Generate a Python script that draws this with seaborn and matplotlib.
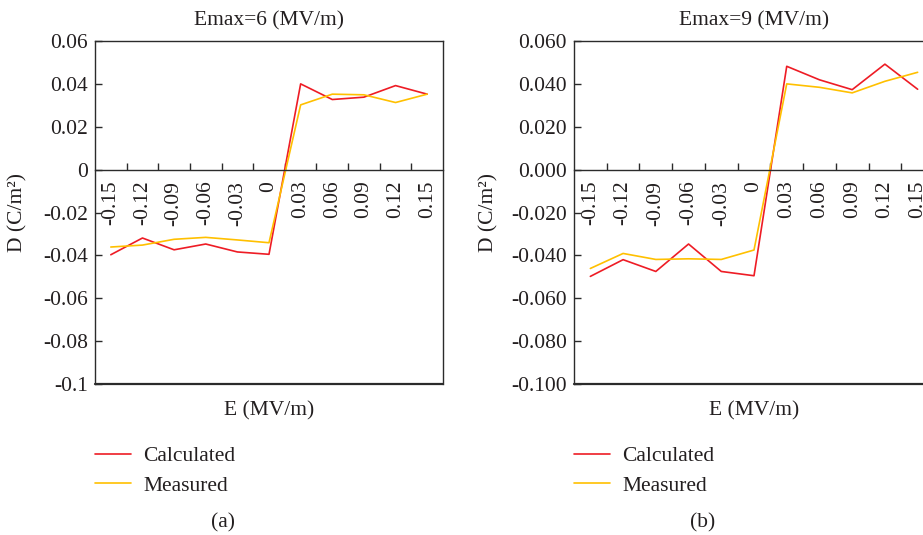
import numpy as np
import pandas as pd
import matplotlib
matplotlib.use("Agg")
import matplotlib.pyplot as plt
import seaborn as sns
from matplotlib.ticker import FixedLocator, FixedFormatter

# ---------------- data ----------------
e_labels = ["-0.15", "-0.12", "-0.09", "-0.06", "-0.03", "0",
            "0.03", "0.06", "0.09", "0.12", "0.15"]

calc_a = [-0.0397, -0.0319, -0.0374, -0.0347, -0.0384, -0.0395,
          0.0400, 0.0327, 0.0338, 0.0392, 0.0352]
meas_a = [-0.0361, -0.0352, -0.0325, -0.0316, -0.0328, -0.0341,
          0.0302, 0.0352, 0.0349, 0.0313, 0.0352]

calc_b = [-0.0498, -0.0420, -0.0475, -0.0347, -0.0475, -0.0495,
          0.0482, 0.0419, 0.0373, 0.0492, 0.0375]
meas_b = [-0.0461, -0.0391, -0.0419, -0.0416, -0.0419, -0.0375,
          0.0400, 0.0384, 0.0358, 0.0412, 0.0454]

yticks = [-0.1, -0.08, -0.06, -0.04, -0.02, 0.0, 0.02, 0.04, 0.06]
ytick_labels_a = ["-0.1", "-0.08", "-0.06", "-0.04", "-0.02", "0", "0.02", "0.04", "0.06"]
ytick_labels_b = ["-0.100", "-0.080", "-0.060", "-0.040", "-0.020", "0.000", "0.020", "0.040", "0.060"]

titles = ["Emax=6 (MV/m)", "Emax=9 (MV/m)"]
series_names = ["Calculated", "Measured"]
colors = {"Calculated": "#ee1c25", "Measured": "#ffc000"}

# ---------------- style ----------------
sns.set_style("white")
plt.rcParams["font.family"] = ["Liberation Serif", "DejaVu Serif"]
plt.rcParams["axes.unicode_minus"] = False
FS = 15.5
TXT = "#231f20"

fig = plt.figure(figsize=(9.23, 5.35), dpi=100)
W, H = 923, 535

def px_axes(l, r, t, b):
    return fig.add_axes([l / W, 1 - b / H, (r - l) / W, (b - t) / H])

panels = [
    dict(box=(95, 443, 41, 384), calc=calc_a, meas=meas_a, ylab=ytick_labels_a,
         title=titles[0], tag="(a)", tagx=223, legx=95, ylx=-0.193),
    dict(box=(574, 934, 41, 384), calc=calc_b, meas=meas_b, ylab=ytick_labels_b,
         title=titles[1], tag="(b)", tagx=703, legx=574, ylx=-0.211),
]

for p in panels:
    ax = px_axes(*p["box"])
    x = np.arange(len(e_labels))
    df = pd.DataFrame({
        "x": np.concatenate([x, x]),
        "D": np.concatenate([p["calc"], p["meas"]]),
        "series": [series_names[0]] * len(x) + [series_names[1]] * len(x),
    })
    sns.lineplot(data=df, x="x", y="D", hue="series", palette=colors,
                 linewidth=1.2, ax=ax, legend=False, sort=False)
    ax.set_xlim(-0.5, len(e_labels) - 0.5)
    ax.set_ylim(-0.1, 0.06)

    # frame
    for s in ["top", "right", "left", "bottom"]:
        ax.spines[s].set_visible(True)
        ax.spines[s].set_color("#2b2b2b")
        ax.spines[s].set_linewidth(1.0)
    ax.spines["bottom"].set_position(("data", 0))
    ax.axhline(-0.1, color="#2b2b2b", lw=1.6, clip_on=False, zorder=5)

    # y axis
    ax.yaxis.set_major_locator(FixedLocator(yticks))
    ax.yaxis.set_major_formatter(FixedFormatter(p["ylab"]))
    ax.tick_params(axis="y", which="major", direction="in", length=5, width=1.0,
                   color="#2b2b2b", labelsize=FS, labelcolor=TXT, pad=5,
                   left=True, right=False)

    # x axis: ticks between categories, labels at category centres
    ax.xaxis.set_major_locator(FixedLocator(np.arange(0.5, len(e_labels) - 1, 1.0)))
    ax.xaxis.set_major_formatter(FixedFormatter([""] * (len(e_labels) - 1)))
    ax.xaxis.set_minor_locator(FixedLocator(x))
    ax.xaxis.set_minor_formatter(FixedFormatter(e_labels))
    ax.tick_params(axis="x", which="major", direction="in", length=5, width=1.0,
                   color="#2b2b2b", bottom=True, top=False)
    ax.tick_params(axis="x", which="minor", length=0, labelsize=FS, labelcolor=TXT,
                   labelrotation=90, pad=8)

    ax.set_xlabel("E (MV/m)", fontsize=FS, color=TXT)
    ax.xaxis.set_label_coords(0.5, -0.05)
    ax.set_ylabel("D (C/m²)", fontsize=FS, color=TXT)
    ax.yaxis.set_label_coords(p["ylx"], 0.5)
    ax.set_title(p["title"], fontsize=FS, color=TXT, pad=11)

    # legend
    handles = [plt.Line2D([], [], color=colors[n], lw=1.2) for n in series_names]
    fig.legend(handles, series_names, loc="upper left",
               bbox_to_anchor=(p["legx"] / W, 1 - 446 / H),
               frameon=False, fontsize=FS, labelcolor=TXT,
               handlelength=1.65, handletextpad=0.6, labelspacing=0.45,
               borderpad=0, borderaxespad=0)
    fig.text(p["tagx"] / W, 1 - 523 / H, p["tag"], ha="center", va="center",
             fontsize=FS, color=TXT)

fig.savefig("out.png", dpi=100)
